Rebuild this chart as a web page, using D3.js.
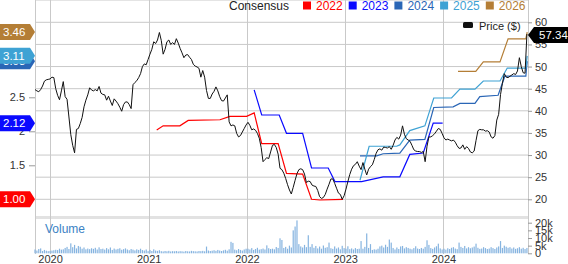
<!DOCTYPE html>
<html>
<head>
<meta charset="utf-8">
<script src="https://cdn.jsdelivr.net/npm/d3@7"></script>
<style>
	body { margin: 0; background: #fff; }
	svg { display: block; font-family: "Liberation Sans", Arial, sans-serif; }
</style>
</head>
<body>
<svg id="chart" width="568" height="264"></svg>
<script>
// weekly closes, first week starting 2019-11-06
var priceStart = '2019-11-06';
var prices = [
	44.8, 44.5, 44.3, 44.8, 45.6, 46.7, 47.0, 47.1, 47.2, 47.6,
	47.5, 45.0, 43.5, 42.5, 44.5, 46.6, 43.2, 42.6, 38.6, 34.6,
	32.2, 30.5, 35.8, 36.0, 37.1, 38.5, 40.9, 42.4, 43.6, 45.2,
	44.7, 44.5, 44.8, 44.5, 45.5, 44.0, 43.7, 43.6, 42.4, 43.3,
	42.2, 41.2, 42.7, 42.2, 41.6, 40.8, 39.9, 41.4, 42.0, 42.0,
	41.4, 40.5, 45.9, 46.4, 46.8, 47.5, 48.4, 50.0, 50.6, 50.4,
	51.6, 52.8, 53.9, 55.6, 55.2, 56.0, 57.7, 55.9, 52.8, 53.9,
	55.6, 56.0, 55.0, 55.4, 55.0, 56.3, 55.3, 54.1, 53.1, 52.0,
	52.6, 52.7, 52.1, 51.6, 50.5, 50.1, 49.9, 49.6, 47.6, 49.1,
	47.6, 44.6, 42.8, 42.8, 43.8, 44.4, 45.4, 44.5, 43.2, 42.3,
	42.2, 42.9, 43.6, 37.5, 36.6, 36.8, 36.6, 34.9, 34.1, 34.4,
	35.2, 36.0, 36.8, 37.4, 36.7, 35.7, 35.9, 35.6, 34.9, 33.8,
	31.7, 28.5, 29.0, 29.4, 29.2, 30.7, 32.2, 32.4, 31.7, 30.2,
	27.0, 26.7, 25.9, 24.7, 23.3, 22.1, 21.2, 22.7, 24.3, 25.8,
	26.7, 26.9, 26.7, 25.7, 23.8, 24.1, 24.0, 23.2, 23.0, 22.9,
	22.0, 20.6, 20.2, 20.4, 21.1, 22.3, 23.4, 24.6, 24.6, 23.6,
	22.5, 21.4, 21.1, 20.0, 20.8, 22.3, 24.0, 25.6, 26.8, 27.6,
	27.9, 28.5, 27.5, 26.7, 28.3, 26.8, 25.5, 26.8, 27.4, 27.8,
	29.0, 30.4, 31.2, 31.4, 31.1, 31.8, 31.7, 31.6, 31.9, 31.3,
	32.2, 33.4, 34.0, 33.6, 34.5, 36.6, 34.7, 33.7, 33.4, 33.1,
	32.2, 31.2, 30.9, 30.8, 30.8, 30.6, 30.8, 28.5, 32.0, 34.1,
	34.1, 34.4, 34.8, 35.4, 36.0, 35.8, 34.9, 33.9, 33.4, 33.6,
	33.4, 33.2, 33.4, 32.9, 32.1, 31.5, 31.6, 32.3, 31.3, 31.9,
	31.5, 30.7, 30.5, 30.9, 33.3, 35.5, 35.8, 35.7, 35.7, 35.4,
	35.5, 35.2, 34.1, 33.8, 34.4, 37.9, 39.2, 43.7, 46.2, 48.4,
	47.6, 47.5, 47.8, 48.1, 48.4, 48.2, 49.0, 52.0, 50.0, 48.6,
	48.5, 57.34
];

// weekly volume, thousands of shares
var volumes = [
	2.5, 1.8, 2.8, 3.2, 1.5, 2.2, 1.7, 1.4, 1.6, 1.8,
	2.0, 2.3, 2.1, 3.0, 2.4, 2.6, 3.5, 4.2, 2.8, 6.5,
	4.0, 5.5, 3.2, 4.8, 4.3, 3.0, 3.8, 2.6, 3.1, 2.7,
	3.3, 2.9, 3.6, 2.5, 3.9, 2.8, 3.0, 2.4, 3.4, 2.6,
	3.8, 2.2, 3.1, 2.5, 2.9, 3.3, 2.3, 2.7, 3.2, 2.5,
	2.0, 2.8, 2.4, 1.9, 2.6, 2.2, 3.0, 2.1, 1.8, 2.5,
	1.4, 2.2, 1.5, 2.6, 1.8, 1.6, 2.0, 1.4, 1.2, 1.5,
	1.3, 1.6, 1.2, 1.4, 1.3, 1.5, 1.2, 1.4, 1.3, 1.1,
	1.5, 1.3, 1.2, 1.6, 1.4, 1.3, 1.2, 1.5, 1.4, 1.6,
	1.3, 4.4, 1.8, 1.5, 1.7, 2.0, 1.6, 2.2, 1.8, 1.5,
	1.9, 2.3, 1.7, 2.6, 7.5, 6.8, 2.4, 2.0, 2.8, 2.2,
	1.8, 2.5, 3.0, 3.0, 2.5, 3.4, 2.2, 2.8, 3.6, 2.4,
	2.7, 3.1, 2.5, 5.2, 3.3, 2.8, 3.0, 2.6, 4.1, 3.5,
	9.8, 8.7, 3.5, 4.2, 3.0, 5.0, 3.8, 15.0, 17.5, 21.5,
	6.0, 4.5, 3.8, 5.5, 4.0, 11.8, 4.2, 6.0, 3.6, 4.8,
	3.2, 4.4, 3.0, 5.1, 3.6, 4.0, 7.0, 3.3, 2.9, 4.5,
	3.1, 3.8, 2.6, 4.9, 3.4, 3.0, 4.6, 2.7, 3.2, 2.5,
	3.4, 2.8, 3.0, 8.0, 3.0, 4.2, 13.0, 3.5, 6.0, 2.2,
	2.6, 2.4, 3.0, 4.5, 5.0, 3.8, 5.6, 4.2, 9.0, 7.0,
	3.5, 2.5, 3.8, 2.8, 4.5, 4.8, 3.2, 4.0, 3.5, 3.0,
	2.6, 3.4, 4.6, 3.1, 2.8, 3.5, 3.0, 4.2, 8.5, 5.5,
	3.4, 2.9, 3.8, 4.6, 6.3, 3.2, 2.5, 3.0, 2.4, 3.3,
	2.8, 3.6, 4.0, 3.1, 2.7, 7.0, 4.2, 3.5, 4.8, 3.2,
	4.0, 3.3, 3.8, 4.4, 6.3, 3.6, 2.9, 3.1, 4.0, 3.4,
	2.8, 3.1, 4.0, 3.4, 2.8, 3.8, 4.5, 8.0, 3.5, 5.0,
	4.3, 3.6, 4.0, 3.1, 3.8, 2.9, 3.3, 4.0, 3.0, 3.6,
	2.8, 3.5
];

// consensus EPS estimate history for each fiscal year
var consensusYears = ['2022', '2023', '2024', '2025', '2026'];
var consensusColors = ['#ff0000', '#0a0aff', '#2a66b6', '#3ea2d4', '#b47e36'];

var eps2022 = [
	['2021-01-31', 2.02], ['2021-02-24', 2.08], ['2021-04-27', 2.08], ['2021-05-28', 2.16],
	['2021-09-23', 2.17], ['2021-10-30', 2.22], ['2021-12-31', 2.22], ['2022-01-28', 2.27],
	['2022-02-25', 1.82], ['2022-04-27', 1.82], ['2022-05-28', 1.38], ['2022-07-27', 1.37],
	['2022-08-29', 1.00], ['2022-09-29', 0.99], ['2022-12-24', 1.00]
];
var eps2023 = [
	['2022-01-28', 2.61], ['2022-02-25', 2.24], ['2022-05-01', 2.24], ['2022-05-28', 1.97],
	['2022-07-27', 1.97], ['2022-08-29', 1.46], ['2022-10-30', 1.46], ['2022-11-24', 1.26],
	['2023-03-03', 1.26], ['2023-05-22', 1.33], ['2023-07-23', 1.33], ['2023-08-29', 1.66],
	['2023-10-18', 1.68], ['2023-11-24', 2.12], ['2023-12-29', 2.12]
];
var eps2024 = [
	['2023-02-25', 1.64], ['2023-04-28', 1.64], ['2023-05-22', 1.67], ['2023-07-23', 1.68],
	['2023-08-29', 1.87], ['2023-10-24', 1.88], ['2023-11-26', 2.35], ['2024-02-06', 2.36],
	['2024-03-02', 2.41], ['2024-04-27', 2.41], ['2024-05-15', 2.51], ['2024-07-22', 2.53],
	['2024-08-16', 2.81], ['2024-11-02', 2.81], ['2024-11-07', 3.03]
];
var eps2025 = [
	['2023-02-25', 1.28], ['2023-03-31', 1.78], ['2023-07-11', 1.78], ['2023-07-23', 1.80],
	['2023-08-29', 2.01], ['2023-10-24', 2.08], ['2023-11-26', 2.49], ['2024-01-31', 2.49],
	['2024-03-02', 2.62], ['2024-04-27', 2.62], ['2024-05-28', 2.74], ['2024-07-29', 2.74],
	['2024-08-25', 2.93], ['2024-11-02', 2.93], ['2024-11-07', 3.11]
];
var eps2026 = [
	['2024-02-24', 2.88], ['2024-04-30', 2.88], ['2024-05-28', 3.02], ['2024-07-29', 3.02],
	['2024-08-28', 3.36], ['2024-11-02', 3.36], ['2024-11-07', 3.46]
];

var priceTicks = [20, 25, 30, 35, 40, 45, 50, 55, 60];
var epsTicks = [1.5, 2, 2.5];
var volumeTicks = [0, 5, 10, 15, 20];

var svg = d3.select('#chart'),
	left = 35, right = 528,
	top = 14, priceBottom = 216, volTop = 219, volBottom = 254;

var parse = d3.timeParse('%Y-%m-%d');
var start = parse(priceStart);

var x = d3.scaleTime().domain([parse('2019-11-06'), parse('2024-11-10')]).range([left, right]),
	yPrice = d3.scaleLinear().domain([20, 60]).range([199.3, 22.3]),
	yEps = d3.scaleLinear().domain([1, 2.5]).range([199.3, 97.3]),
	yVol = d3.scaleLinear().domain([0, 20]).range([253.3, 222.7]);

var weekly = prices.map(function(p, i) {
	return { date: d3.timeDay.offset(start, 7 * i), price: p, volume: volumes[i] };
});

var series = [eps2022, eps2023, eps2024, eps2025, eps2026].map(function(s, i) {
	return {
		year: consensusYears[i],
		color: consensusColors[i],
		values: s.map(function(d) { return { date: parse(d[0]), eps: d[1] }; })
	};
});

// background
var grad = svg.append('defs').append('linearGradient')
	.attr('id', 'bg').attr('x1', 0).attr('y1', 0).attr('x2', 0).attr('y2', 1);
grad.append('stop').attr('offset', 0).attr('stop-color', '#e2e2e2');
grad.append('stop').attr('offset', 1).attr('stop-color', '#ffffff');

svg.append('rect')
	.attr('x', left).attr('y', top)
	.attr('width', right - left).attr('height', priceBottom - top)
	.attr('fill', 'url(#bg)');

svg.append('rect')
	.attr('x', left).attr('y', priceBottom)
	.attr('width', right - left).attr('height', volTop - priceBottom)
	.attr('fill', '#e2e2e2');

// grid
var grid = svg.append('g').attr('stroke', '#c9c9c9').attr('stroke-width', 1);

grid.selectAll('.hgrid')
	.data(priceTicks)
	.enter().append('line')
	.attr('x1', left).attr('x2', right)
	.attr('y1', function(d) { return yPrice(d); })
	.attr('y2', function(d) { return yPrice(d); });

grid.append('line').attr('x1', left).attr('x2', right).attr('y1', top + 0.5).attr('y2', top + 0.5);

grid.selectAll('.vgrid')
	.data(x.ticks(d3.timeYear.every(1)))
	.enter().append('line')
	.attr('x1', function(d) { return Math.round(x(d)) + 0.5; })
	.attr('x2', function(d) { return Math.round(x(d)) + 0.5; })
	.attr('y1', top).attr('y2', volBottom);

grid.append('line').attr('x1', left + 0.5).attr('x2', left + 0.5).attr('y1', top).attr('y2', volBottom);
grid.append('line').attr('x1', right + 0.5).attr('x2', right + 0.5).attr('y1', top).attr('y2', volBottom);

// volume
svg.append('g')
	.selectAll('rect')
	.data(weekly)
	.enter().append('rect')
	.attr('fill', '#86b4e0')
	.attr('x', function(d) { return x(d.date) - 0.6; })
	.attr('y', function(d) { return yVol(d.volume); })
	.attr('width', 1.2)
	.attr('height', function(d) { return yVol(0) - yVol(d.volume); });

svg.append('text')
	.attr('x', 45).attr('y', 232.5)
	.attr('font-size', 12)
	.attr('fill', '#3b82c4')
	.text('Volume');

// consensus lines
var epsLine = d3.line()
	.x(function(d) { return x(d.date); })
	.y(function(d) { return yEps(d.eps); });

svg.append('g')
	.selectAll('path')
	.data(series)
	.enter().append('path')
	.attr('fill', 'none')
	.attr('stroke', function(d) { return d.color; })
	.attr('stroke-width', 1.2)
	.attr('d', function(d) { return epsLine(d.values); });

// price line
var priceLine = d3.line()
	.x(function(d) { return x(d.date); })
	.y(function(d) { return yPrice(d.price); });

svg.append('path')
	.datum(weekly)
	.attr('fill', 'none')
	.attr('stroke', '#111')
	.attr('stroke-width', 1)
	.attr('stroke-linejoin', 'round')
	.attr('d', priceLine);

// axes
function styleAxis(g) {
	g.select('.domain').remove();
	g.selectAll('line').attr('stroke', '#999');
	g.selectAll('text').attr('fill', '#333').attr('font-size', 11)
		.attr('font-family', '"Liberation Sans", Arial, sans-serif');
}

svg.append('g')
	.attr('transform', 'translate(' + right + ',0)')
	.call(d3.axisRight(yPrice).tickValues(priceTicks).tickSize(4).tickPadding(3))
	.call(styleAxis);

svg.append('g')
	.attr('transform', 'translate(' + right + ',0)')
	.call(d3.axisRight(yVol).tickValues(volumeTicks).tickSize(4).tickPadding(3)
		.tickFormat(function(d) { return d ? d + 'k' : '0'; }))
	.call(styleAxis);

svg.append('g')
	.attr('transform', 'translate(' + left + ',0)')
	.call(d3.axisLeft(yEps).tickValues(epsTicks).tickSize(6).tickPadding(4).tickFormat(d3.format('~g')))
	.call(styleAxis);

svg.append('g')
	.attr('transform', 'translate(0,' + volBottom + ')')
	.call(d3.axisBottom(x).ticks(d3.timeYear.every(1)).tickFormat(d3.timeFormat('%Y')).tickSize(0).tickPadding(1))
	.call(styleAxis);

// last-value badges on the left
var badges = svg.append('g');
series.forEach(function(s) {
	var last = s.values[s.values.length - 1],
		cy = yEps(last.eps);
	badges.append('path')
		.attr('fill', s.color)
		.attr('d', 'M0,' + (cy - 8) + 'H30L35,' + cy + 'L30,' + (cy + 8) + 'H0Z');
	badges.append('text')
		.attr('x', 3).attr('y', cy + 4)
		.attr('font-size', 11.5)
		.attr('fill', '#fff')
		.text(last.eps.toFixed(2));
});

// last price badge
var lastPrice = prices[prices.length - 1],
	py = yPrice(lastPrice) + 1;
svg.append('path')
	.attr('fill', '#000')
	.attr('d', 'M' + right + ',' + py + 'L534,' + (py - 8) + 'H568V' + (py + 8) + 'H534Z');
svg.append('text')
	.attr('x', 539).attr('y', py + 4)
	.attr('font-size', 11.5)
	.attr('fill', '#fff')
	.text(lastPrice.toFixed(2));

// legends
var legend = svg.append('g').attr('font-size', 12);
legend.append('text')
	.attr('x', 229).attr('y', 10)
	.attr('fill', '#222')
	.text('Consensus');

var items = legend.selectAll('.item')
	.data(series)
	.enter().append('g')
	.attr('transform', function(d, i) { return 'translate(' + (303 + i * 45.7) + ',0)'; });
items.append('rect')
	.attr('y', 1.5).attr('width', 8).attr('height', 8)
	.attr('fill', function(d) { return d.color; });
items.append('text')
	.attr('x', 13).attr('y', 10)
	.attr('fill', function(d) { return d.color; })
	.text(function(d) { return d.year; });

svg.append('rect')
	.attr('x', 463).attr('y', 22).attr('width', 10).attr('height', 6).attr('rx', 1.5)
	.attr('fill', '#111');
svg.append('text')
	.attr('x', 479).attr('y', 29.5)
	.attr('font-size', 11)
	.attr('fill', '#222')
	.text('Price ($)');
</script>
</body>
</html>
